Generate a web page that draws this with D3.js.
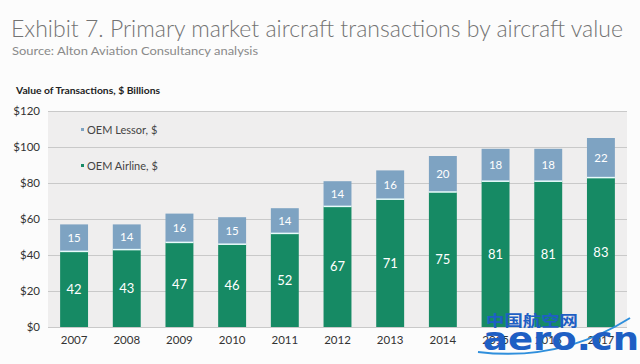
<!DOCTYPE html>
<html><head><meta charset="utf-8">
<script src="https://cdn.jsdelivr.net/npm/d3@7"></script>
<style>body{margin:0;background:#fcfcfc;}svg{display:block;font-family:"Lato","Open Sans",sans-serif;}</style>
</head><body>
<svg id="c" width="640" height="364"></svg>
<script>
const years = ["2007","2008","2009","2010","2011","2012","2013","2014","2015","2016","2017"];
const airline = [42,43,47,46,52,67,71,75,81,81,83];
const lessor = [15,14,16,15,14,14,16,20,18,18,22];
const yTicks = [0,20,40,60,80,100,120];
const seriesNames = ["OEM Lessor, $","OEM Airline, $"];

const svg = d3.select("#c");
const green = "#168a64", blue = "#7ea3c2";

svg.append("text").attr("x",11).attr("y",37).attr("font-size",23).attr("font-weight",300)
  .attr("fill","#737373").attr("textLength",612).attr("lengthAdjust","spacingAndGlyphs")
  .text("Exhibit 7. Primary market aircraft transactions by aircraft value");
svg.append("text").attr("x",12).attr("y",55).attr("font-size",12).attr("fill","#8a8a8a")
  .attr("textLength",246).attr("lengthAdjust","spacingAndGlyphs")
  .text("Source: Alton Aviation Consultancy analysis");
svg.append("text").attr("x",16).attr("y",94).attr("font-size",10).attr("font-weight",700)
  .attr("fill","#222").attr("textLength",144).attr("lengthAdjust","spacingAndGlyphs")
  .text("Value of Transactions, $ Billions");

const y = d3.scaleLinear().domain([0,120]).range([327,111]);
const x = d3.scaleBand().domain(years).range([48,627]).paddingInner(0.47).paddingOuter(0.23);

svg.append("rect").attr("x",48).attr("y",111).attr("width",579).attr("height",216).attr("fill","#efeeee");

const ya = svg.append("g").attr("transform","translate(48,0)")
  .call(d3.axisLeft(y).tickValues(yTicks).tickSize(-579).tickFormat(d=>"$"+d));
ya.select(".domain").remove();
ya.selectAll(".tick line").attr("stroke","#c9c9c9").attr("stroke-width",1.2);
ya.selectAll(".tick text").attr("x",-8).attr("font-size",11.5).attr("fill","#333").attr("font-family","Lato, sans-serif");

const g = svg.append("g");
years.forEach((yr,i)=>{
  const bx = x(yr), bw = x.bandwidth();
  const a = airline[i], l = lessor[i];
  g.append("rect").attr("x",bx).attr("y",y(a)).attr("width",bw).attr("height",y(0)-y(a))
    .attr("fill",green);
  g.append("rect").attr("x",bx).attr("y",y(a+l)).attr("width",bw).attr("height",y(a)-y(a+l))
    .attr("fill",blue);
  g.append("line").attr("x1",bx).attr("x2",bx+bw).attr("y1",y(a)).attr("y2",y(a))
    .attr("stroke","#e8fbfb").attr("stroke-width",1.5);
  g.append("text").attr("x",bx+bw/2).attr("y",(y(0)+y(a))/2).attr("dy","0.35em")
    .attr("text-anchor","middle").attr("fill","#fff").attr("font-size",13).text(a);
  g.append("text").attr("x",bx+bw/2).attr("y",(y(a)+y(a+l))/2).attr("dy","0.35em")
    .attr("text-anchor","middle").attr("fill","#fff").attr("font-size",11.5).text(l);
});

const xa = svg.append("g").attr("transform","translate(0,327)").call(d3.axisBottom(x).tickSize(0));
xa.select(".domain").remove();
xa.selectAll(".tick text").attr("dy","1.25em").attr("font-size",11.5).attr("fill","#333").attr("font-family","Lato, sans-serif");

// legend
const leg = [[seriesNames[0], blue, 130],[seriesNames[1], green, 166]];
leg.forEach(([t,c,yy])=>{
  svg.append("rect").attr("x",81).attr("y",yy-2).attr("width",3).attr("height",3).attr("fill",c);
  svg.append("text").attr("x",87).attr("y",yy).attr("dy","0.35em").attr("font-size",11).attr("fill","#444").text(t);
});

// watermark
const wm = svg.append("g");
wm.append("text").attr("x",486).attr("y",326).attr("font-size",15).attr("font-weight",700)
  .attr("fill","#1e5fc4").attr("textLength",92).attr("lengthAdjust","spacingAndGlyphs")
  .attr("font-family","Noto Sans CJK SC").text("中国航空网");
wm.append("path").attr("d","M478,352 Q560,362 630,318").attr("fill","none").attr("stroke","#2f8fdc").attr("stroke-width",2);
wm.append("text").attr("x",483).attr("y",350).attr("font-size",32).attr("font-weight",700)
  .attr("fill","#1e5fc4").attr("textLength",156).attr("lengthAdjust","spacingAndGlyphs")
  .attr("font-family","DejaVu Sans").text("aero.cn");
</script>
</body></html>
